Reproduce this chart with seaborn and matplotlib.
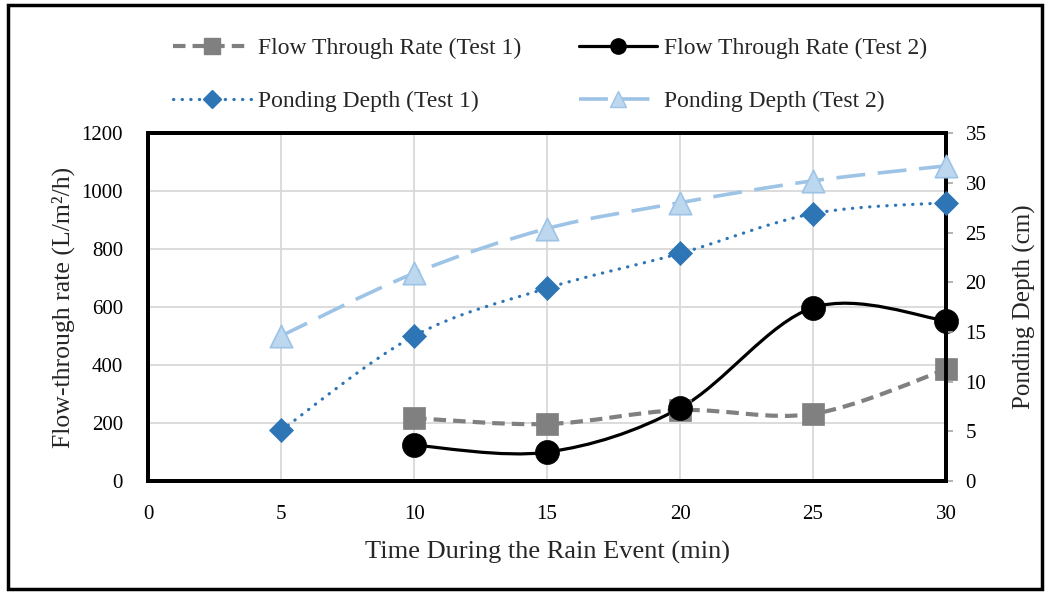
import numpy as np
import pandas as pd
import seaborn as sns
import matplotlib
matplotlib.use("Agg")
import matplotlib.pyplot as plt
from matplotlib.path import Path
from matplotlib.patches import PathPatch, Rectangle
from matplotlib.lines import Line2D

# ---- data ----
time_flow = [10, 15, 20, 25, 30]
flow_test1 = [217, 197, 245, 232, 385]
flow_test2 = [124, 100, 252, 598, 553]
time_pond = [5, 10, 15, 20, 25, 30]
pond_test1 = [5.1, 14.6, 19.4, 22.9, 26.9, 28.0]
pond_test2 = [14.6, 20.9, 25.4, 28.0, 30.2, 31.7]
labels = ["Flow Through Rate (Test 1)", "Flow Through Rate (Test 2)",
          "Ponding Depth (Test 1)", "Ponding Depth (Test 2)"]
x_ticks = [0, 5, 10, 15, 20, 25, 30]
left_ticks = [0, 200, 400, 600, 800, 1000, 1200]
right_ticks = [0, 5, 10, 15, 20, 25, 30, 35]

sns.set_theme(style="white")
plt.rcParams["font.family"] = ["Liberation Serif", "DejaVu Serif"]

C_GRAY = "#808080"
C_BLACK = "#000000"
C_BLUE = "#2E75B6"
C_LBLUE = "#9DC3E6"
C_LBLUE_FILL = "#BDD7EE"


def smooth_path(x, y):
    """Excel-style smoothed line as cubic Bezier path (data coords)."""
    P = np.column_stack([x, y]).astype(float)
    n = len(P)
    verts = [P[0]]
    codes = [Path.MOVETO]
    for i in range(n - 1):
        p0 = P[i - 1] if i > 0 else P[i]
        p1 = P[i]
        p2 = P[i + 1]
        p3 = P[i + 2] if i + 2 < n else P[i + 1]
        c1 = p1 + (p2 - p0) / 6.0
        c2 = p2 - (p3 - p1) / 6.0
        verts += [c1, c2, p2]
        codes += [Path.CURVE4] * 3
    return Path(verts, codes)


fig = plt.figure(figsize=(10.5, 5.94), dpi=100)
fig.patch.set_facecolor("white")
ax = fig.add_axes([0.141, 0.190, 0.760, 0.586])
ax2 = ax.twinx()

# smoothed lines
styles = [
    (ax, time_flow, flow_test1, C_GRAY, 3.0, (0, (3, 1.7)), "butt"),
    (ax, time_flow, flow_test2, C_BLACK, 2.3, "-", "butt"),
    (ax2, time_pond, pond_test1, C_BLUE, 2.3, (0, (0.1, 2.6)), "round"),
    (ax2, time_pond, pond_test2, C_LBLUE, 2.6, (0, (8, 3.5)), "butt"),
]
for a, xs, ys, col, lw, ls, cap in styles:
    patch = PathPatch(smooth_path(xs, ys), facecolor="none", edgecolor=col,
                      lw=lw, linestyle=ls, capstyle=cap, zorder=3)
    a.add_patch(patch)

# markers
df_f1 = pd.DataFrame({"t": time_flow, "v": flow_test1})
df_f2 = pd.DataFrame({"t": time_flow, "v": flow_test2})
df_p1 = pd.DataFrame({"t": time_pond, "v": pond_test1})
df_p2 = pd.DataFrame({"t": time_pond, "v": pond_test2})
sns.scatterplot(data=df_f1, x="t", y="v", ax=ax, marker="s", s=230,
                color=C_GRAY, edgecolor=C_GRAY, linewidth=0.5, zorder=4,
                clip_on=False)
sns.scatterplot(data=df_f2, x="t", y="v", ax=ax, marker="o", s=300,
                color=C_BLACK, edgecolor=C_BLACK, linewidth=0.5, zorder=4,
                clip_on=False)
sns.scatterplot(data=df_p1, x="t", y="v", ax=ax2, marker="D", s=150,
                color=C_BLUE, edgecolor=C_BLUE, linewidth=0.5, zorder=4,
                clip_on=False)
sns.scatterplot(data=df_p2, x="t", y="v", ax=ax2, marker="^", s=260,
                color=C_LBLUE_FILL, edgecolor=C_LBLUE, linewidth=1.2, zorder=4,
                clip_on=False)

# axes setup
ax.set_xlim(0, 30)
ax.set_ylim(0, 1200)
ax2.set_ylim(0, 35)
ax.set_xticks(x_ticks)
ax.set_xticklabels([str(v) for v in x_ticks])
ax.set_yticks(left_ticks)
ax.set_yticklabels([str(v) for v in left_ticks])
ax2.set_yticks(right_ticks)
ax2.set_yticklabels([str(v) for v in right_ticks])

ax.grid(True, color="#D9D9D9", lw=1.3)
ax.set_axisbelow(True)
ax2.grid(False)

fs = 15
ax.tick_params(axis="x", labelsize=fs, length=0, pad=17, colors="black")
ax.tick_params(axis="y", labelsize=fs, length=0, pad=18, colors="black")
ax2.tick_params(axis="y", labelsize=fs, length=5, width=1.2, direction="out",
                pad=9, color="#A6A6A6", labelcolor="black")
ax.set_xlabel("Time During the Rain Event (min)", fontsize=19, labelpad=12)
ax.set_ylabel("Flow-through rate (L/m²/h)", fontsize=18.5, labelpad=5)
ax2.set_ylabel("Ponding Depth (cm)", fontsize=18, labelpad=19)

for a in (ax, ax2):
    for sp in a.spines.values():
        sp.set_color("black")
        sp.set_linewidth(2.8)

# legend
handles = [
    Line2D([], [], color=C_GRAY, lw=3.0, linestyle=(0, (3, 1.7)), marker="s",
           markersize=11, markerfacecolor=C_GRAY, markeredgecolor=C_GRAY),
    Line2D([], [], color=C_BLACK, lw=2.3, linestyle="-", marker="o",
           markersize=11, markerfacecolor=C_BLACK),
    Line2D([], [], color=C_BLUE, lw=2.3, linestyle=(0, (0.1, 2.6)),
           dash_capstyle="round", marker="D", markersize=9,
           markerfacecolor=C_BLUE, markeredgecolor=C_BLUE),
    Line2D([], [], color=C_LBLUE, lw=2.6, linestyle=(0, (8, 3.5)), marker="^",
           markersize=11, markerfacecolor=C_LBLUE_FILL, markeredgecolor=C_LBLUE),
]
order = [0, 2, 1, 3]
fig.legend([handles[i] for i in order], [labels[i] for i in order],
           loc="center", bbox_to_anchor=(0.524, 0.874), ncol=2, frameon=False,
           fontsize=17, handlelength=3.3, labelspacing=1.35, columnspacing=2.45,
           handletextpad=0.3)

# outer border
fig.add_artist(Rectangle((0.008, 0.008), 0.984, 0.984, transform=fig.transFigure,
                         fill=False, edgecolor="black", lw=2.5))

fig.savefig("out.png", dpi=100)
